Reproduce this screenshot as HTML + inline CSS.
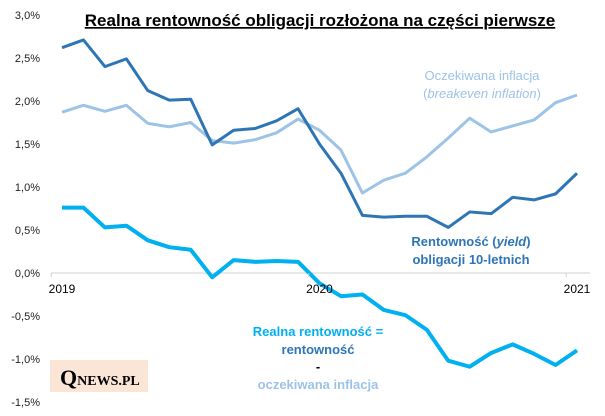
<!DOCTYPE html>
<html><head><meta charset="utf-8"><style>
body{margin:0;background:#fff;}
svg{display:block;font-family:"Liberation Sans",sans-serif;}
</style></head><body>
<svg id="chart" width="605" height="416">
<text x="320" y="26" text-anchor="middle" font-size="17" font-weight="bold" text-decoration="underline">Realna rentowność obligacji rozłożona na części pierwsze</text>
<g id="yaxis"></g>
<g id="series"></g>
<g id="xaxis"></g>
<g font-size="13" text-anchor="middle">
<text x="482" y="80" fill="#9dc3e6">Oczekiwana inflacja</text>
<text x="482" y="98" fill="#9dc3e6">(<tspan font-style="italic">breakeven inflation</tspan>)</text>
<text x="471" y="246" fill="#2e75b6" font-weight="bold">Rentowność (<tspan font-style="italic">yield</tspan>)</text>
<text x="471" y="264" fill="#2e75b6" font-weight="bold">obligacji 10-letnich</text>
<text x="318" y="336" fill="#00b0f0" font-weight="bold">Realna rentowność =</text>
<text x="318" y="354" fill="#2e75b6" font-weight="bold">rentowność</text>
<text x="318" y="371" fill="#000" font-weight="bold">-</text>
<text x="318" y="389" fill="#9dc3e6" font-weight="bold">oczekiwana inflacja</text>
</g>
<g>
<rect x="50" y="360" width="98" height="32" fill="#fbe5d6"/>
<text x="60" y="385" font-family="Liberation Serif,serif" font-size="22" font-weight="bold" fill="#000">Q<tspan font-size="14">NEWS.PL</tspan></text>
</g>
</svg>
<script>
const categories=["2019-01","2019-02","2019-03","2019-04","2019-05","2019-06","2019-07","2019-08","2019-09","2019-10","2019-11","2019-12","2020-01","2020-02","2020-03","2020-04","2020-05","2020-06","2020-07","2020-08","2020-09","2020-10","2020-11","2020-12","2021-01"];
const yieldVals=[2.62,2.71,2.40,2.49,2.12,2.01,2.02,1.49,1.66,1.68,1.77,1.91,1.50,1.16,0.67,0.65,0.66,0.66,0.53,0.71,0.69,0.88,0.85,0.92,1.16];
const breakevenVals=[1.87,1.95,1.88,1.95,1.74,1.70,1.75,1.54,1.51,1.55,1.63,1.79,1.66,1.43,0.93,1.08,1.16,1.35,1.57,1.80,1.64,1.71,1.78,1.98,2.07];
const realVals=[0.76,0.76,0.53,0.55,0.38,0.30,0.27,-0.05,0.15,0.13,0.14,0.13,-0.12,-0.27,-0.25,-0.43,-0.49,-0.66,-1.02,-1.09,-0.93,-0.83,-0.94,-1.07,-0.90];
const yTicks=[3.0,2.5,2.0,1.5,1.0,0.5,0.0,-0.5,-1.0,-1.5];
const xLabels=[{i:0,t:"2019"},{i:12,t:"2020"},{i:24,t:"2021"}];
const NS="http://www.w3.org/2000/svg";
const x=i=>62+i*(577-62)/24;
const y=v=>273-v*86;
function mk(tag,attrs,parent){const e=document.createElementNS(NS,tag);for(const k in attrs)e.setAttribute(k,attrs[k]);parent.appendChild(e);return e;}
const ya=document.getElementById('yaxis');
yTicks.forEach(v=>{const t=mk('text',{x:40,y:y(v)+4,'text-anchor':'end','font-size':11,fill:'#222'},ya);


t.textContent=v.toFixed(1).replace('.',',')+'%';});
const sg=document.getElementById('series');
const ax=mk('line',{x1:51,x2:590,y1:y(0),y2:y(0),stroke:'#d0d0d0','stroke-width':1},sg);


function line(vals,color,w,name){const p=mk('polyline',{points:vals.map((v,i)=>x(i)+','+y(v)).join(' '),fill:'none',stroke:color,'stroke-width':w,'stroke-linejoin':'round'},sg);

}
line(breakevenVals,'#9dc3e6',3,'breakeven-inflation-line');
line(yieldVals,'#2e75b6',3,'yield-line');
line(realVals,'#00b0f0',4,'real-yield-line');
const xa=document.getElementById('xaxis');
xLabels.forEach(o=>{const tk=mk('line',{x1:x(o.i)-10.7,x2:x(o.i)-10.7,y1:y(0),y2:y(0)+4,stroke:'#d0d0d0'},xa);


const t=mk('text',{x:x(o.i),y:y(0)+20,'text-anchor':'middle','font-size':12,fill:'#000'},xa);


t.textContent=o.t;});
</script>
</body></html>
